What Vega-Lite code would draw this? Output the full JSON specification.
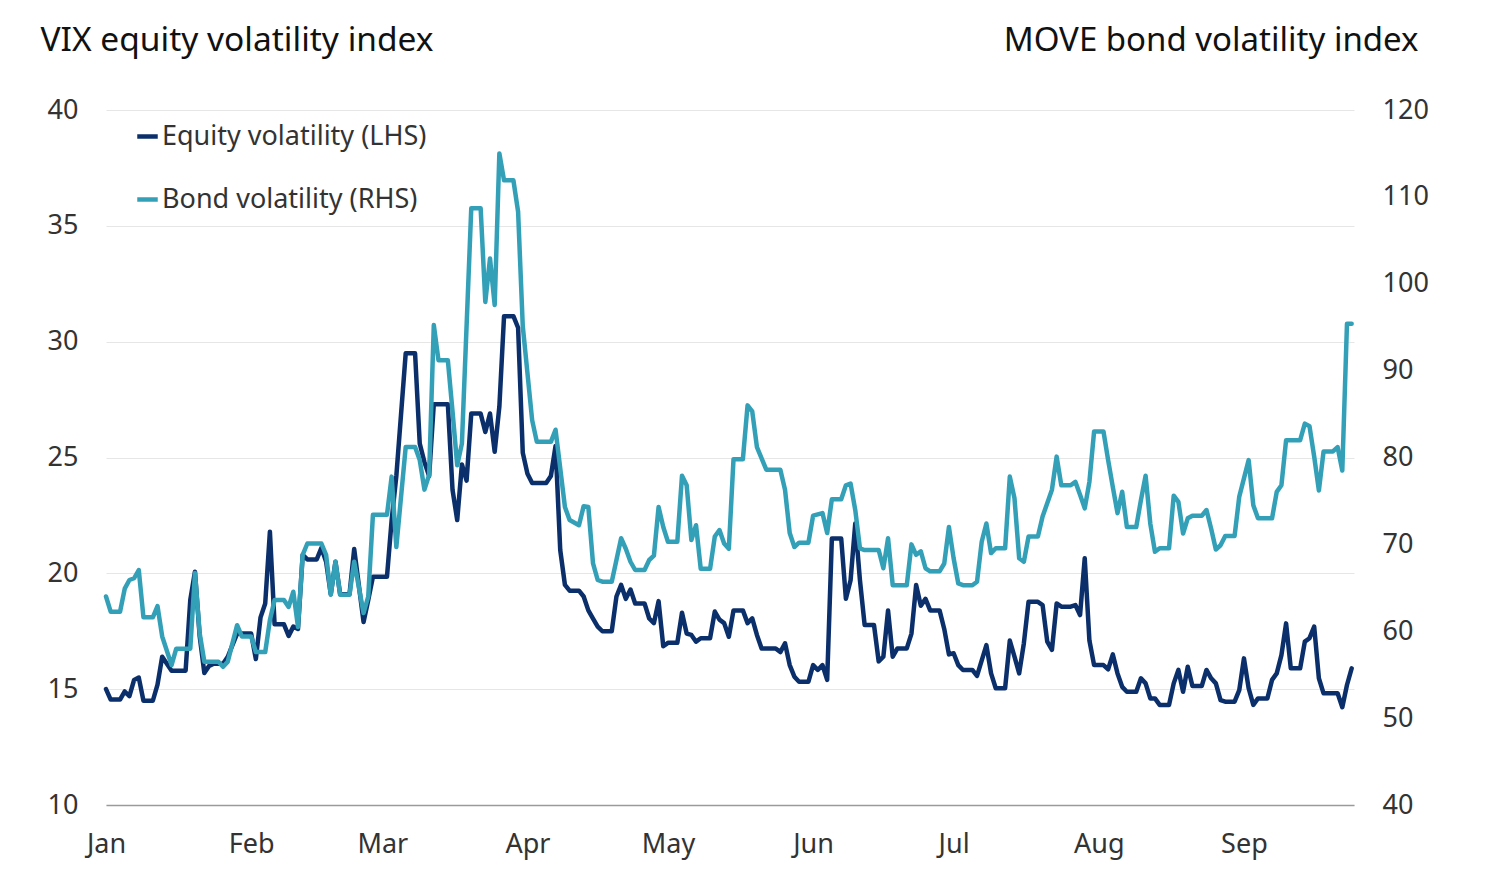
{
  "$schema": "https://vega.github.io/schema/vega-lite/v6.json",
  "width": 1248,
  "height": 695,
  "autosize": {"type": "none"},
  "padding": {"left": 106, "top": 110, "right": 150, "bottom": 78},
  "background": "white",
  "config": {"view": {"stroke": null}, "font": "Noto Sans"},
  "datasets": {
    "vix": [
      {"date":"2023-01-01","v":15.0},{"date":"2023-01-02","v":14.55},{"date":"2023-01-04","v":14.55},{"date":"2023-01-05","v":14.9},{"date":"2023-01-06","v":14.7},{"date":"2023-01-07","v":15.4},{"date":"2023-01-08","v":15.5},{"date":"2023-01-09","v":14.5},{"date":"2023-01-11","v":14.5},{"date":"2023-01-12","v":15.2},{"date":"2023-01-13","v":16.4},{"date":"2023-01-15","v":15.8},{"date":"2023-01-18","v":15.8},{"date":"2023-01-19","v":18.85},{"date":"2023-01-20","v":20.07},{"date":"2023-01-21","v":17.3},{"date":"2023-01-22","v":15.7},{"date":"2023-01-23","v":16.0},{"date":"2023-01-24","v":16.1},{"date":"2023-01-26","v":16.1},{"date":"2023-01-27","v":16.4},{"date":"2023-01-28","v":16.9},{"date":"2023-01-29","v":17.4},
      {"date":"2023-02-01","v":17.4},{"date":"2023-02-02","v":16.3},{"date":"2023-02-03","v":18.1},{"date":"2023-02-04","v":18.7},{"date":"2023-02-05","v":21.8},{"date":"2023-02-06","v":17.8},{"date":"2023-02-08","v":17.8},{"date":"2023-02-09","v":17.3},{"date":"2023-02-10","v":17.7},{"date":"2023-02-11","v":17.6},{"date":"2023-02-12","v":20.8},{"date":"2023-02-13","v":20.6},{"date":"2023-02-15","v":20.6},{"date":"2023-02-16","v":21.1},{"date":"2023-02-17","v":20.5},{"date":"2023-02-18","v":19.1},{"date":"2023-02-19","v":20.5},{"date":"2023-02-20","v":19.1},{"date":"2023-02-22","v":19.1},{"date":"2023-02-23","v":21.05},{"date":"2023-02-25","v":17.9},{"date":"2023-02-26","v":18.85},{"date":"2023-02-27","v":19.85},
      {"date":"2023-03-02","v":19.85},{"date":"2023-03-03","v":22.3},{"date":"2023-03-04","v":24.2},{"date":"2023-03-06","v":29.5},{"date":"2023-03-08","v":29.5},{"date":"2023-03-09","v":25.6},{"date":"2023-03-10","v":24.8},{"date":"2023-03-11","v":24.2},{"date":"2023-03-12","v":27.3},{"date":"2023-03-15","v":27.3},{"date":"2023-03-16","v":23.6},{"date":"2023-03-17","v":22.3},{"date":"2023-03-18","v":24.7},{"date":"2023-03-19","v":24.0},{"date":"2023-03-20","v":26.9},{"date":"2023-03-22","v":26.9},{"date":"2023-03-23","v":26.1},{"date":"2023-03-24","v":26.9},{"date":"2023-03-25","v":25.25},{"date":"2023-03-26","v":27.2},{"date":"2023-03-27","v":31.1},{"date":"2023-03-29","v":31.1},{"date":"2023-03-30","v":30.6},{"date":"2023-03-31","v":25.2},
      {"date":"2023-04-01","v":24.3},{"date":"2023-04-02","v":23.9},{"date":"2023-04-05","v":23.9},{"date":"2023-04-06","v":24.2},{"date":"2023-04-07","v":25.5},{"date":"2023-04-08","v":21.0},{"date":"2023-04-09","v":19.5},{"date":"2023-04-10","v":19.25},{"date":"2023-04-12","v":19.25},{"date":"2023-04-13","v":19.0},{"date":"2023-04-14","v":18.4},{"date":"2023-04-15","v":18.05},{"date":"2023-04-16","v":17.7},{"date":"2023-04-17","v":17.5},{"date":"2023-04-19","v":17.5},{"date":"2023-04-20","v":19.0},{"date":"2023-04-21","v":19.5},{"date":"2023-04-22","v":18.9},{"date":"2023-04-23","v":19.3},{"date":"2023-04-24","v":18.7},{"date":"2023-04-26","v":18.7},{"date":"2023-04-27","v":18.05},{"date":"2023-04-28","v":17.85},{"date":"2023-04-29","v":18.8},{"date":"2023-04-30","v":16.85},
      {"date":"2023-05-01","v":17.0},{"date":"2023-05-03","v":17.0},{"date":"2023-05-04","v":18.3},{"date":"2023-05-05","v":17.4},{"date":"2023-05-06","v":17.34},{"date":"2023-05-07","v":17.05},{"date":"2023-05-08","v":17.2},{"date":"2023-05-10","v":17.2},{"date":"2023-05-11","v":18.35},{"date":"2023-05-12","v":18.0},{"date":"2023-05-13","v":17.85},{"date":"2023-05-14","v":17.26},{"date":"2023-05-15","v":18.4},{"date":"2023-05-17","v":18.4},{"date":"2023-05-18","v":17.85},{"date":"2023-05-19","v":18.06},{"date":"2023-05-20","v":17.34},{"date":"2023-05-21","v":16.76},{"date":"2023-05-24","v":16.76},{"date":"2023-05-25","v":16.6},{"date":"2023-05-26","v":16.98},{"date":"2023-05-27","v":16.04},{"date":"2023-05-28","v":15.54},{"date":"2023-05-29","v":15.32},{"date":"2023-05-31","v":15.32},
      {"date":"2023-06-01","v":16.04},{"date":"2023-06-02","v":15.83},{"date":"2023-06-03","v":16.04},{"date":"2023-06-04","v":15.4},{"date":"2023-06-05","v":21.5},{"date":"2023-06-07","v":21.5},{"date":"2023-06-08","v":18.9},{"date":"2023-06-09","v":19.7},{"date":"2023-06-10","v":22.15},{"date":"2023-06-11","v":19.7},{"date":"2023-06-12","v":17.77},{"date":"2023-06-14","v":17.77},{"date":"2023-06-15","v":16.2},{"date":"2023-06-16","v":16.4},{"date":"2023-06-17","v":18.4},{"date":"2023-06-18","v":16.4},{"date":"2023-06-19","v":16.76},{"date":"2023-06-21","v":16.76},{"date":"2023-06-22","v":17.4},{"date":"2023-06-23","v":19.5},{"date":"2023-06-24","v":18.6},{"date":"2023-06-25","v":18.9},{"date":"2023-06-26","v":18.4},{"date":"2023-06-28","v":18.4},{"date":"2023-06-29","v":17.6},{"date":"2023-06-30","v":16.5},
      {"date":"2023-07-01","v":16.55},{"date":"2023-07-02","v":16.04},{"date":"2023-07-03","v":15.83},{"date":"2023-07-05","v":15.83},{"date":"2023-07-06","v":15.57},{"date":"2023-07-08","v":16.9},{"date":"2023-07-09","v":15.68},{"date":"2023-07-10","v":15.04},{"date":"2023-07-12","v":15.04},{"date":"2023-07-13","v":17.1},{"date":"2023-07-14","v":16.4},{"date":"2023-07-15","v":15.68},{"date":"2023-07-16","v":16.98},{"date":"2023-07-17","v":18.77},{"date":"2023-07-19","v":18.77},{"date":"2023-07-20","v":18.63},{"date":"2023-07-21","v":17.05},{"date":"2023-07-22","v":16.7},{"date":"2023-07-23","v":18.7},{"date":"2023-07-24","v":18.56},{"date":"2023-07-26","v":18.56},{"date":"2023-07-27","v":18.63},{"date":"2023-07-28","v":18.2},{"date":"2023-07-29","v":20.65},{"date":"2023-07-30","v":17.1},{"date":"2023-07-31","v":16.04},
      {"date":"2023-08-02","v":16.04},{"date":"2023-08-03","v":15.86},{"date":"2023-08-04","v":16.5},{"date":"2023-08-05","v":15.68},{"date":"2023-08-06","v":15.1},{"date":"2023-08-07","v":14.89},{"date":"2023-08-09","v":14.89},{"date":"2023-08-10","v":15.47},{"date":"2023-08-11","v":15.25},{"date":"2023-08-12","v":14.6},{"date":"2023-08-13","v":14.6},{"date":"2023-08-14","v":14.32},{"date":"2023-08-16","v":14.32},{"date":"2023-08-17","v":15.25},{"date":"2023-08-18","v":15.83},{"date":"2023-08-19","v":14.89},{"date":"2023-08-20","v":15.97},{"date":"2023-08-21","v":15.14},{"date":"2023-08-23","v":15.14},{"date":"2023-08-24","v":15.83},{"date":"2023-08-25","v":15.47},{"date":"2023-08-26","v":15.25},{"date":"2023-08-27","v":14.53},{"date":"2023-08-28","v":14.46},{"date":"2023-08-30","v":14.46},{"date":"2023-08-31","v":14.96},
      {"date":"2023-09-01","v":16.33},{"date":"2023-09-02","v":15.04},{"date":"2023-09-03","v":14.32},{"date":"2023-09-04","v":14.6},{"date":"2023-09-06","v":14.6},{"date":"2023-09-07","v":15.4},{"date":"2023-09-08","v":15.68},{"date":"2023-09-09","v":16.47},{"date":"2023-09-10","v":17.84},{"date":"2023-09-11","v":15.9},{"date":"2023-09-13","v":15.9},{"date":"2023-09-14","v":17.05},{"date":"2023-09-15","v":17.2},{"date":"2023-09-16","v":17.7},{"date":"2023-09-17","v":15.47},{"date":"2023-09-18","v":14.82},{"date":"2023-09-21","v":14.82},{"date":"2023-09-22","v":14.22},{"date":"2023-09-23","v":15.18},{"date":"2023-09-24","v":15.9}
    ],
    "move": [
      {"date":"2023-01-01","v":64.0},{"date":"2023-01-02","v":62.25},{"date":"2023-01-04","v":62.25},{"date":"2023-01-05","v":64.9},{"date":"2023-01-06","v":65.9},{"date":"2023-01-07","v":66.1},{"date":"2023-01-08","v":67.05},{"date":"2023-01-09","v":61.6},{"date":"2023-01-11","v":61.6},{"date":"2023-01-12","v":62.9},{"date":"2023-01-13","v":59.4},{"date":"2023-01-15","v":56.1},{"date":"2023-01-16","v":58.0},{"date":"2023-01-19","v":58.0},{"date":"2023-01-20","v":66.7},{"date":"2023-01-21","v":59.8},{"date":"2023-01-22","v":56.5},{"date":"2023-01-25","v":56.5},{"date":"2023-01-26","v":55.9},{"date":"2023-01-27","v":56.5},{"date":"2023-01-29","v":60.7},{"date":"2023-01-30","v":59.4},
      {"date":"2023-02-01","v":59.4},{"date":"2023-02-02","v":57.6},{"date":"2023-02-04","v":57.6},{"date":"2023-02-05","v":61.3},{"date":"2023-02-06","v":63.6},{"date":"2023-02-08","v":63.6},{"date":"2023-02-09","v":62.8},{"date":"2023-02-10","v":64.55},{"date":"2023-02-11","v":60.5},{"date":"2023-02-12","v":68.8},{"date":"2023-02-13","v":70.1},{"date":"2023-02-16","v":70.1},{"date":"2023-02-17","v":68.8},{"date":"2023-02-18","v":64.2},{"date":"2023-02-19","v":68.0},{"date":"2023-02-20","v":64.2},{"date":"2023-02-22","v":64.2},{"date":"2023-02-23","v":68.0},{"date":"2023-02-25","v":62.1},{"date":"2023-02-26","v":64.0},{"date":"2023-02-27","v":73.4},
      {"date":"2023-03-02","v":73.4},{"date":"2023-03-03","v":77.8},{"date":"2023-03-04","v":69.7},{"date":"2023-03-06","v":81.2},{"date":"2023-03-08","v":81.2},{"date":"2023-03-09","v":79.7},{"date":"2023-03-10","v":76.3},{"date":"2023-03-11","v":78.0},{"date":"2023-03-12","v":95.25},{"date":"2023-03-13","v":91.2},{"date":"2023-03-15","v":91.2},{"date":"2023-03-16","v":85.3},{"date":"2023-03-17","v":79.1},{"date":"2023-03-18","v":81.6},{"date":"2023-03-20","v":108.7},{"date":"2023-03-22","v":108.7},{"date":"2023-03-23","v":97.9},{"date":"2023-03-24","v":102.9},{"date":"2023-03-25","v":97.55},{"date":"2023-03-26","v":115.0},{"date":"2023-03-27","v":111.9},{"date":"2023-03-29","v":111.9},{"date":"2023-03-30","v":108.3},{"date":"2023-03-31","v":95.1},
      {"date":"2023-04-02","v":84.3},{"date":"2023-04-03","v":81.8},{"date":"2023-04-06","v":81.8},{"date":"2023-04-07","v":83.2},{"date":"2023-04-09","v":74.3},{"date":"2023-04-10","v":72.8},{"date":"2023-04-12","v":72.2},{"date":"2023-04-13","v":74.4},{"date":"2023-04-14","v":74.3},{"date":"2023-04-15","v":67.8},{"date":"2023-04-16","v":65.9},{"date":"2023-04-17","v":65.7},{"date":"2023-04-19","v":65.7},{"date":"2023-04-20","v":68.2},{"date":"2023-04-21","v":70.7},{"date":"2023-04-22","v":69.5},{"date":"2023-04-23","v":68.0},{"date":"2023-04-24","v":67.05},{"date":"2023-04-26","v":67.05},{"date":"2023-04-27","v":68.2},{"date":"2023-04-28","v":68.7},{"date":"2023-04-29","v":74.3},{"date":"2023-04-30","v":72.0},
      {"date":"2023-05-01","v":70.3},{"date":"2023-05-03","v":70.3},{"date":"2023-05-04","v":77.9},{"date":"2023-05-05","v":76.8},{"date":"2023-05-06","v":70.5},{"date":"2023-05-07","v":72.2},{"date":"2023-05-08","v":67.2},{"date":"2023-05-10","v":67.2},{"date":"2023-05-11","v":70.9},{"date":"2023-05-12","v":71.65},{"date":"2023-05-13","v":70.1},{"date":"2023-05-14","v":69.5},{"date":"2023-05-15","v":79.8},{"date":"2023-05-17","v":79.8},{"date":"2023-05-18","v":86.0},{"date":"2023-05-19","v":85.3},{"date":"2023-05-20","v":81.2},{"date":"2023-05-22","v":78.6},{"date":"2023-05-25","v":78.6},{"date":"2023-05-26","v":76.3},{"date":"2023-05-27","v":71.3},{"date":"2023-05-28","v":69.7},{"date":"2023-05-29","v":70.2},{"date":"2023-05-31","v":70.2},
      {"date":"2023-06-01","v":73.3},{"date":"2023-06-03","v":73.6},{"date":"2023-06-04","v":71.3},{"date":"2023-06-05","v":75.2},{"date":"2023-06-07","v":75.2},{"date":"2023-06-08","v":76.8},{"date":"2023-06-09","v":77.0},{"date":"2023-06-10","v":73.95},{"date":"2023-06-11","v":69.55},{"date":"2023-06-12","v":69.35},{"date":"2023-06-15","v":69.35},{"date":"2023-06-16","v":67.25},{"date":"2023-06-17","v":70.7},{"date":"2023-06-18","v":65.3},{"date":"2023-06-21","v":65.3},{"date":"2023-06-22","v":70.0},{"date":"2023-06-23","v":68.8},{"date":"2023-06-24","v":69.2},{"date":"2023-06-25","v":67.25},{"date":"2023-06-26","v":66.9},{"date":"2023-06-28","v":66.9},{"date":"2023-06-29","v":67.8},{"date":"2023-06-30","v":72.0},
      {"date":"2023-07-01","v":68.4},{"date":"2023-07-02","v":65.5},{"date":"2023-07-03","v":65.3},{"date":"2023-07-05","v":65.3},{"date":"2023-07-06","v":65.7},{"date":"2023-07-07","v":70.3},{"date":"2023-07-08","v":72.4},{"date":"2023-07-09","v":69.0},{"date":"2023-07-10","v":69.55},{"date":"2023-07-12","v":69.55},{"date":"2023-07-13","v":77.8},{"date":"2023-07-14","v":75.3},{"date":"2023-07-15","v":68.4},{"date":"2023-07-16","v":68.0},{"date":"2023-07-17","v":70.9},{"date":"2023-07-19","v":70.9},{"date":"2023-07-20","v":73.2},{"date":"2023-07-22","v":76.3},{"date":"2023-07-23","v":80.1},{"date":"2023-07-24","v":76.8},{"date":"2023-07-26","v":76.8},{"date":"2023-07-27","v":77.2},{"date":"2023-07-28","v":75.7},{"date":"2023-07-29","v":74.15},{"date":"2023-07-30","v":77.2},{"date":"2023-07-31","v":83.0},
      {"date":"2023-08-02","v":83.0},{"date":"2023-08-03","v":79.7},{"date":"2023-08-04","v":76.6},{"date":"2023-08-05","v":73.6},{"date":"2023-08-06","v":76.05},{"date":"2023-08-07","v":72.0},{"date":"2023-08-09","v":72.0},{"date":"2023-08-10","v":75.1},{"date":"2023-08-11","v":77.9},{"date":"2023-08-12","v":72.4},{"date":"2023-08-13","v":69.15},{"date":"2023-08-14","v":69.55},{"date":"2023-08-16","v":69.55},{"date":"2023-08-17","v":75.6},{"date":"2023-08-18","v":74.9},{"date":"2023-08-19","v":71.25},{"date":"2023-08-20","v":73.0},{"date":"2023-08-21","v":73.3},{"date":"2023-08-23","v":73.3},{"date":"2023-08-24","v":73.95},{"date":"2023-08-25","v":71.8},{"date":"2023-08-26","v":69.4},{"date":"2023-08-27","v":69.9},{"date":"2023-08-28","v":70.96},{"date":"2023-08-30","v":70.96},{"date":"2023-08-31","v":75.5},
      {"date":"2023-09-01","v":77.6},{"date":"2023-09-02","v":79.7},{"date":"2023-09-03","v":74.5},{"date":"2023-09-04","v":73.0},{"date":"2023-09-07","v":73.0},{"date":"2023-09-08","v":76.05},{"date":"2023-09-09","v":76.8},{"date":"2023-09-10","v":82.0},{"date":"2023-09-13","v":82.0},{"date":"2023-09-14","v":83.9},{"date":"2023-09-15","v":83.6},{"date":"2023-09-16","v":80.1},{"date":"2023-09-17","v":76.2},{"date":"2023-09-18","v":80.7},{"date":"2023-09-20","v":80.7},{"date":"2023-09-21","v":81.2},{"date":"2023-09-22","v":78.5},{"date":"2023-09-23","v":95.4},{"date":"2023-09-24","v":95.4}
    ]
  },
  "layer": [
    {
      "data": {"name": "vix"},
      "mark": {"type": "line", "strokeWidth": 4.5, "strokeJoin": "round", "strokeCap": "round"},
      "encoding": {
        "x": {
          "field": "date", "type": "temporal",
          "scale": {"type": "utc", "domain": [{"year": 2023, "month": 1, "date": 1, "utc": true}, {"year": 2023, "month": 9, "date": 24, "hours": 12, "utc": true}]},
          "axis": {
            "title": null, "labelExpr": "utcFormat(datum.value, '%b')",
            "values": [
              {"year": 2023, "month": 1, "date": 1, "utc": true},
              {"year": 2023, "month": 2, "date": 1, "utc": true},
              {"year": 2023, "month": 3, "date": 1, "utc": true},
              {"year": 2023, "month": 4, "date": 1, "utc": true},
              {"year": 2023, "month": 5, "date": 1, "utc": true},
              {"year": 2023, "month": 6, "date": 1, "utc": true},
              {"year": 2023, "month": 7, "date": 1, "utc": true},
              {"year": 2023, "month": 8, "date": 1, "utc": true},
              {"year": 2023, "month": 9, "date": 1, "utc": true}
            ],
            "grid": false, "ticks": false, "domain": true, "domainColor": "#9a9a9a", "domainWidth": 1.5,
            "labelFont": "Noto Sans", "labelFontSize": 27, "labelColor": "#333333", "labelPadding": 26,
            "labelAlign": "center", "labelFlush": false
          }
        },
        "y": {
          "field": "v", "type": "quantitative",
          "scale": {"domain": [10, 40], "nice": false, "zero": false},
          "axis": {
            "orient": "left", "values": [10, 15, 20, 25, 30, 35, 40],
            "grid": true, "gridColor": "#e6e6e6", "gridWidth": 1,
            "ticks": false, "domain": false,
            "labelFont": "Noto Sans", "labelFontSize": 27, "labelColor": "#333333", "labelPadding": 28,
            "title": "VIX equity volatility index", "titleAngle": 0, "titleAlign": "left", "titleBaseline": "alphabetic",
            "titleX": -66, "titleY": -60, "titleFont": "Noto Sans", "titleFontSize": 33.5, "titleFontWeight": "normal", "titleColor": "#111111"
          }
        },
        "color": {
          "datum": "Equity volatility (LHS)",
          "scale": {"domain": ["Equity volatility (LHS)", "Bond volatility (RHS)"], "range": ["#0b2f6a", "#33a0b8"]},
          "legend": {
            "orient": "none", "legendX": 28, "legendY": 13, "title": null,
            "symbolType": "stroke", "symbolStrokeWidth": 4.5, "symbolSize": 420,
            "labelFont": "Noto Sans", "labelFontSize": 27, "labelColor": "#333333", "labelOffset": 1, "labelLimit": 0,
            "rowPadding": 35
          }
        }
      }
    },
    {
      "data": {"name": "move"},
      "mark": {"type": "line", "strokeWidth": 4.5, "strokeJoin": "round", "strokeCap": "round"},
      "encoding": {
        "x": {
          "field": "date", "type": "temporal",
          "axis": {
            "title": null, "labelExpr": "utcFormat(datum.value, '%b')",
            "values": [
              {"year": 2023, "month": 1, "date": 1, "utc": true},
              {"year": 2023, "month": 2, "date": 1, "utc": true},
              {"year": 2023, "month": 3, "date": 1, "utc": true},
              {"year": 2023, "month": 4, "date": 1, "utc": true},
              {"year": 2023, "month": 5, "date": 1, "utc": true},
              {"year": 2023, "month": 6, "date": 1, "utc": true},
              {"year": 2023, "month": 7, "date": 1, "utc": true},
              {"year": 2023, "month": 8, "date": 1, "utc": true},
              {"year": 2023, "month": 9, "date": 1, "utc": true}
            ],
            "grid": false, "ticks": false, "domain": true, "domainColor": "#9a9a9a", "domainWidth": 1.5,
            "labelFont": "Noto Sans", "labelFontSize": 27, "labelColor": "#333333", "labelPadding": 26,
            "labelAlign": "center", "labelFlush": false
          }
        },
        "y": {
          "field": "v", "type": "quantitative",
          "scale": {"domain": [40, 120], "nice": false, "zero": false},
          "axis": {
            "orient": "right", "values": [40, 50, 60, 70, 80, 90, 100, 110, 120],
            "grid": false, "ticks": false, "domain": false,
            "labelFont": "Noto Sans", "labelFontSize": 27, "labelColor": "#333333", "labelPadding": 28,
            "title": "MOVE bond volatility index", "titleAngle": 0, "titleAlign": "right", "titleBaseline": "alphabetic",
            "titleX": 64, "titleY": -60, "titleFont": "Noto Sans", "titleFontSize": 33, "titleFontWeight": "normal", "titleColor": "#111111"
          }
        },
        "color": {"datum": "Bond volatility (RHS)"}
      }
    }
  ],
  "resolve": {"scale": {"y": "independent"}}
}
